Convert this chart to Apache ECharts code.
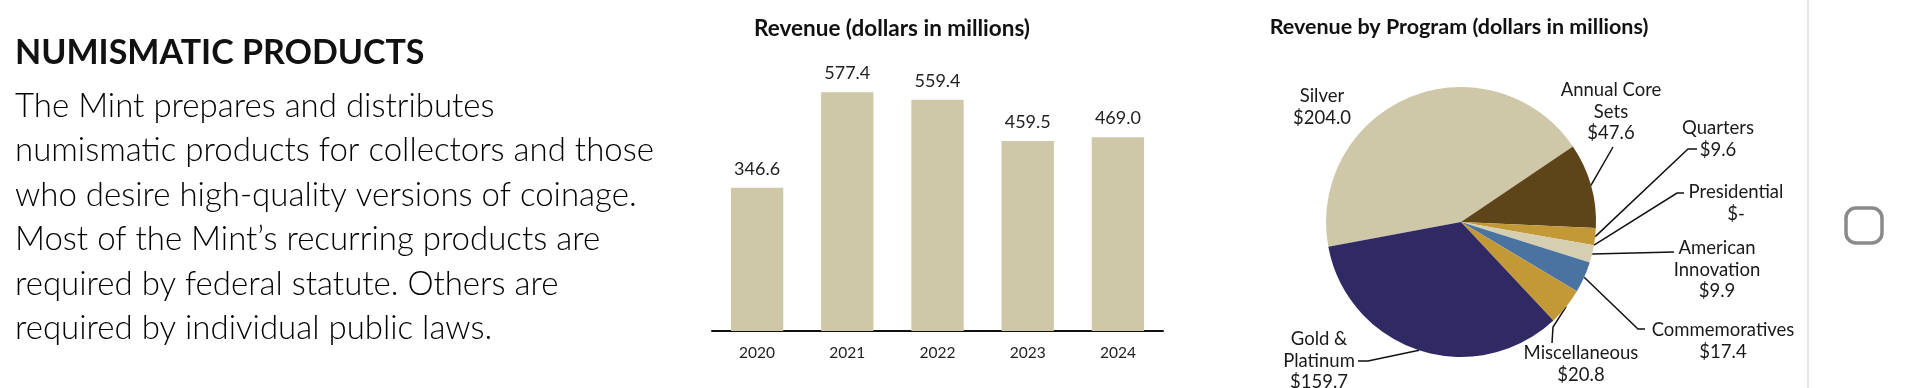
<!DOCTYPE html>
<html><head><meta charset="utf-8">
<script src="https://cdn.jsdelivr.net/npm/echarts@6/dist/echarts.min.js"></script>
<style>html,body{margin:0;padding:0;background:#fff}#c{width:1920px;height:388px}</style>
</head><body><div id="c"></div>
<script>
// ---- data ----
const heading = 'NUMISMATIC PRODUCTS';
const bodyLines = [
  'The Mint prepares and distributes',
  'numismatic products for collectors and those',
  'who desire high-quality versions of coinage.',
  'Most of the Mint\u2019s recurring products are',
  'required by federal statute. Others are',
  'required by individual public laws.'
];
const barTitle = 'Revenue (dollars in millions)';
const years = ['2020', '2021', '2022', '2023', '2024'];
const revenue = [346.6, 577.4, 559.4, 459.5, 469.0];
const pieTitle = 'Revenue by Program (dollars in millions)';
const programs = ['Silver', 'Annual Core\nSets', 'Quarters', 'Presidential', 'American\nInnovation', 'Commemoratives', 'Miscellaneous', 'Gold &\nPlatinum'];
const programRevenue = [204.0, 47.6, 9.6, 0, 9.9, 17.4, 20.8, 159.7];

// ---- styles ----
const pieColors = ['#CEC7A8', '#5E4519', '#C39938', '#C39938', '#D5CEB1', '#4A73A2', '#C39938', '#302963'];
const FONT = 'Lato, "Noto Sans", sans-serif';
// label placement (style): block centre and label-line bend/end points
const pieLabelPos = [
  { x: 1322, y: 107, line: null },
  { x: 1611, y: 112, line: [[1613, 147], [1613, 147]] },
  { x: 1718, y: 139, line: [[1688, 149], [1697, 149]] },
  { x: 1736, y: 203, line: [[1677, 193], [1684, 193]] },
  { x: 1717, y: 270, line: [[1674, 252], [1674, 252]] },
  { x: 1723, y: 341, line: [[1638, 329], [1645, 329]] },
  { x: 1581, y: 364, line: [[1553, 327], [1552, 343]] },
  { x: 1319, y: 361, line: [[1368, 361], [1358, 361]] }
];

const chart = echarts.init(document.getElementById('c'), null, { renderer: 'canvas' });

const graphics = [
  { type: 'text', x: 15, y: 53, style: { text: heading, font: 'bold 34px ' + FONT, fill: '#111', align: 'left', verticalAlign: 'middle' } },
  { type: 'text', x: 892, y: 29, style: { text: barTitle, font: 'bold 22.5px ' + FONT, fill: '#111', align: 'center', verticalAlign: 'middle' } },
  { type: 'text', x: 1459, y: 27, style: { text: pieTitle, font: 'bold 21.5px ' + FONT, fill: '#111', align: 'center', verticalAlign: 'middle' } },
  { type: 'line', shape: { x1: 1808, y1: 0, x2: 1808, y2: 388 }, style: { stroke: '#e6e6e6', lineWidth: 2 } },
  { type: 'rect', shape: { x: 1846, y: 208, width: 36, height: 35, r: 10 }, style: { fill: 'none', stroke: '#8a8a8a', lineWidth: 3.5 } }
];
bodyLines.forEach((t, i) => {
  graphics.push({ type: 'text', x: 15, y: 106 + i * 44.5, style: { text: t, font: '300 33px ' + FONT, fill: '#000', align: 'left', verticalAlign: 'middle' } });
});

chart.setOption({
  animation: false,
  backgroundColor: '#fff',
  graphic: graphics,
  grid: { left: 712, right: 757, top: 83, bottom: 57 },
  xAxis: {
    type: 'category', data: years,
    axisLine: { lineStyle: { color: '#111', width: 2 } },
    axisTick: { show: false },
    axisLabel: { fontSize: 15.5, color: '#222', fontFamily: FONT, margin: 13.5 }
  },
  yAxis: { type: 'value', min: 0, max: 600, show: false },
  series: [
    {
      type: 'bar', data: revenue, barWidth: '58%',
      itemStyle: { color: '#CEC7A8' },
      label: { show: true, position: 'top', distance: 10, fontSize: 18, color: '#222', fontFamily: FONT, formatter: p => p.value.toFixed(1) }
    },
    {
      type: 'pie', center: [1461, 222], radius: 135, startAngle: 190.6, clockwise: true,
      avoidLabelOverlap: false,
      data: programs.map((n, i) => ({ name: n, value: programRevenue[i], itemStyle: { color: pieColors[i] }, labelLine: { show: i !== 0 } })),
      label: {
        show: true, position: 'outside', fontSize: 18.5, lineHeight: 21.5, color: '#1a1a1a', fontFamily: FONT, align: 'center',
        formatter: p => p.name + '\n$' + (p.value === 0 ? '-' : p.value.toFixed(1))
      },
      labelLine: { show: true, lineStyle: { color: '#111', width: 1.5 } },
      labelLayout: function (params) {
        const s = pieLabelPos[params.dataIndex];
        const out = { x: s.x, y: s.y, align: 'center', verticalAlign: 'middle' };
        if (s.line && params.labelLinePoints) {
          out.labelLinePoints = [params.labelLinePoints[0], s.line[0], s.line[1]];
        }
        return out;
      }
    }
  ]
});
</script></body></html>
